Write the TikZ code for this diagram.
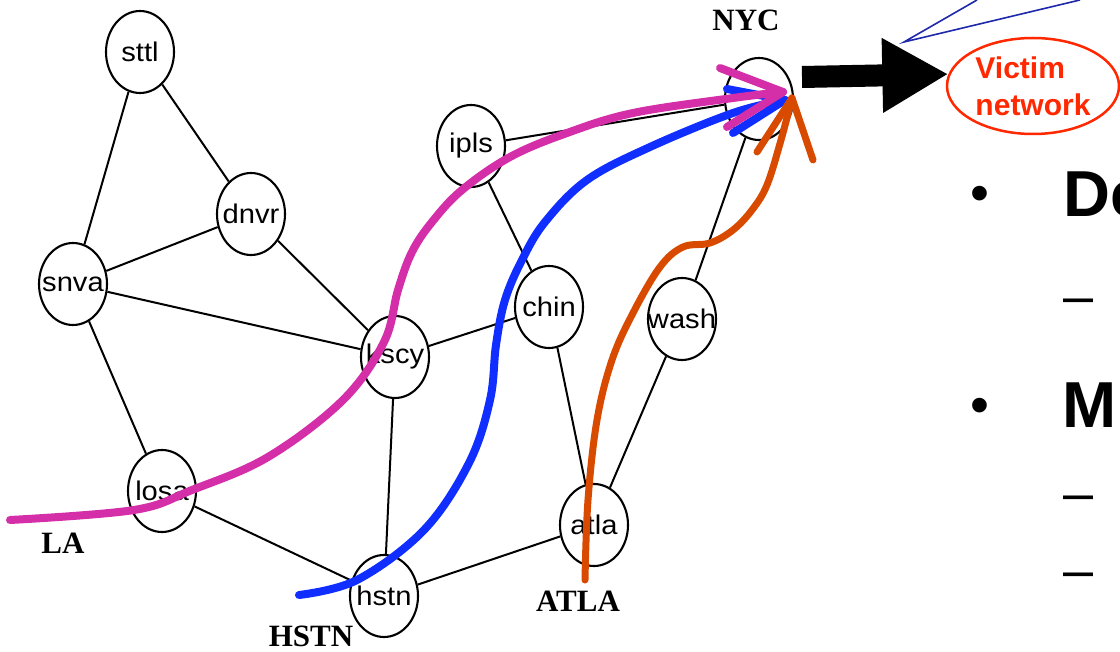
\documentclass[tikz,border=0pt]{standalone}
\usepackage{fontspec}
\setmainfont{Liberation Serif}
\setsansfont{Liberation Sans}
\usetikzlibrary{arrows.meta,shapes.geometric}

\definecolor{laroute}{RGB}{212,46,168}
\definecolor{hsroute}{RGB}{16,46,255}
\definecolor{atroute}{RGB}{216,74,0}
\definecolor{victimred}{RGB}{255,40,0}
\definecolor{callout}{RGB}{30,40,170}

% router label kept out of the ellipse size computation
\newcommand\rname[1]{\makebox[0pt]{\scalebox{1.08}[1]{#1}}}

\begin{document}
\begin{tikzpicture}[x=1pt,y=-1pt,
  router/.style={draw, line width=2.1pt, ellipse, minimum width=68pt,
    minimum height=82pt, inner sep=0pt, fill=white,
    font=\sffamily\fontsize{27}{27}\selectfont},
  link/.style={line width=2pt},
  city/.style={font=\bfseries\fontsize{31}{31}\selectfont},
  route/.style={line width=8pt, line cap=round, line join=round},
  slidebig/.style={font=\sffamily\bfseries\fontsize{65}{65}\selectfont, inner sep=0pt},
  slidemark/.style={font=\sffamily\fontsize{54}{54}\selectfont, inner sep=0pt},
]
\useasboundingbox (0,0) rectangle (1120,652);
\clip (0,0) rectangle (1120,652);

% backbone routers
\node[router] (sttl) at (140,52)  {\rname{sttl}};
\node[router] (dnvr) at (251,214) {\rname{dnvr}};
\node[router] (snva) at (73,284)  {\rname{snva}};
\node[router] (kscy) at (395,357) {\rname{kscy}};
\node[router] (losa) at (162,491) {\rname{losa}};
\node[router] (hstn) at (384,596) {\rname{hstn}};
\node[router] (atla) at (594,525) {\rname{atla}};
\node[router] (chin) at (549,307) {\rname{chin}};
\node[router] (wash) at (682,319) {\rname{wash}};
\node[router] (ipls) at (471,146) {\rname{ipls}};
\node[router] (nyc)  at (759,99)  {};

% backbone links
\draw[link] (sttl) -- (snva);
\draw[link] (sttl) -- (dnvr);
\draw[link] (snva) -- (dnvr);
\draw[link] (snva) -- (kscy);
\draw[link] (dnvr) -- (kscy);
\draw[link] (snva) -- (losa);
\draw[link] (losa) -- (hstn);
\draw[link] (kscy) -- (hstn);
\draw[link] (kscy) -- (chin);
\draw[link] (ipls) -- (chin);
\draw[link] (ipls) -- (nyc);
\draw[link] (chin) -- (atla);
\draw[link] (hstn) -- (atla);
\draw[link] (atla) -- (wash);
\draw[link] (wash) -- (nyc);

% city labels
\node[city] (lbl-nyc)  at (746,20)  {NYC};
\node[city] (lbl-la)   at (63,543)  {LA};
\node[city] (lbl-hstn) at (311,636) {HSTN};
\node[city] (lbl-atla) at (578,601) {ATLA};

% victim network and the aggregate arrow into it
\node[draw=victimred, line width=2.5pt, ellipse, minimum width=172pt,
  minimum height=96pt, inner sep=0pt, text=victimred, align=left,
  font=\sffamily\bfseries\fontsize{30}{37}\selectfont]
  (victim) at (1033,86) {Victim\\network};
\coordinate (bigstart) at (802,77);
\draw[line width=22pt, -{Triangle[length=66pt, width=70pt]}] (bigstart) -- (victim.172);

% callout edges
\coordinate (callapex) at (904,42);
\coordinate (callA) at (977,0);
\coordinate (callB) at (1080,0);
\draw[callout, line width=1.6pt] (callA) -- (callapex) -- (callB);

% attack routes
\coordinate (hs0) at (299,595);
\coordinate (hstip) at (785,100);
\draw[route, hsroute] plot[smooth, tension=0.6] coordinates {
  (hs0) (357,580) (424,530) (469,463) (490,400) (496,345) (505,300)
  (522,260) (545,222) (587,180) (650,147) (733,113) (hstip)};
\draw[route, hsroute] (727,89) -- (hstip) -- (733,133);

\coordinate (la0) at (10,520);
\coordinate (latip) at (783,92);
\draw[route, laroute] plot[smooth, tension=0.6] coordinates {
  (la0) (134,510) (192,490) (268,457) (343,400) (384,342) (398,290)
  (412,252) (432,222) (462,190) (510,157) (567,133) (633,113) (733,98) (latip)};
\draw[route, laroute] (720,68) -- (latip) -- (727,127);

\coordinate (at0) at (585,580);
\coordinate (attip) at (792,98);
\draw[route, atroute, line width=7pt] plot[smooth, tension=0.6] coordinates {
  (at0) (588,500) (597,420) (612,360) (633,313) (660,267) (683,247)
  (710,243) (733,230) (752,210) (767,185) (781,140) (attip)};
\draw[route, atroute, line width=7pt] (757,152) -- (attip) -- (813,160);

% slide bullets at the right margin
\node[slidemark, anchor=base] (dot1) at (980,212) {•};
\node[slidebig, anchor=base west] (head1) at (1063,217) {De};
\node[slidemark, anchor=base west] (dash1) at (1063,315) {–};
\node[slidemark, anchor=base] (dot2) at (980,424) {•};
\node[slidebig, anchor=base west] (head2) at (1062,428) {M};
\node[slidemark, anchor=base west] (dash2) at (1063,511) {–};
\node[slidemark, anchor=base west] (dash3) at (1063,588) {–};
\end{tikzpicture}
\end{document}
